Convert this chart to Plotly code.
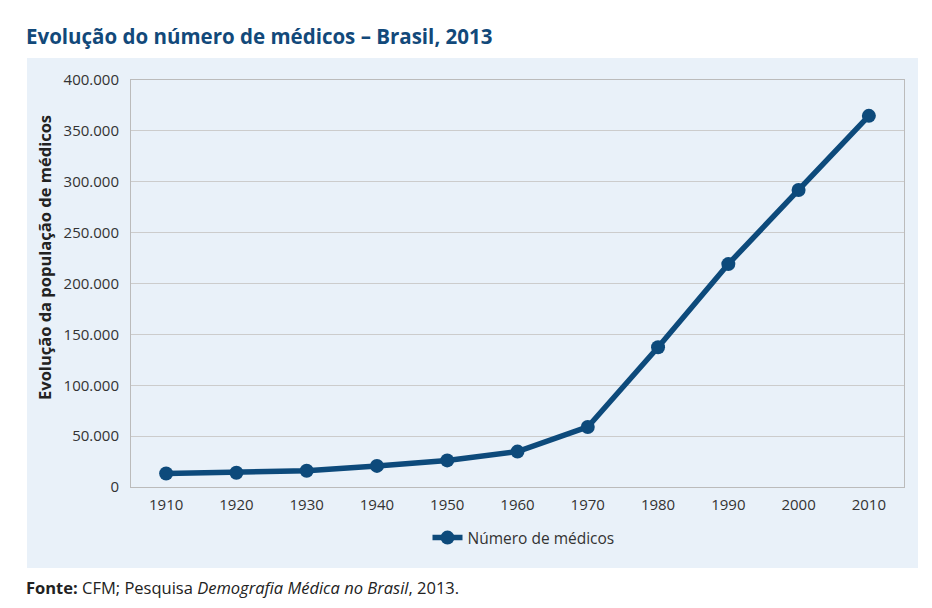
import plotly.graph_objects as go

years = ["1910", "1920", "1930", "1940", "1950", "1960", "1970", "1980", "1990", "2000", "2010"]
medicos = [13270, 14031, 15899, 20745, 26120, 34792, 58994, 137347, 219084, 291926, 364757]
y_ticks = [0, 50000, 100000, 150000, 200000, 250000, 300000, 350000, 400000]

# page body has an 8px margin, so the figure is drawn 8px in from the page corner
OFF = 8
W, H = 932 - 2 * OFF, 608 - 2 * OFF
ml, mr, mt, mb = 131 - OFF, W - (904 - OFF), 80 - OFF, H - (487 - OFF)
pw, ph = W - ml - mr, H - mt - mb

def px_x(x):
    return (x - OFF - ml) / pw

def px_y(y):
    return (H - mb - (y - OFF)) / ph

line_color = "#0D4A7B"

fig = go.Figure()
fig.add_trace(go.Scatter(
    x=years, y=medicos, mode="lines+markers", name="Número de médicos",
    line=dict(color=line_color, width=5.5),
    marker=dict(color=line_color, size=14),
))

fig.add_shape(type="rect", xref="paper", yref="paper", layer="below",
              x0=px_x(27), x1=px_x(918), y0=px_y(568), y1=px_y(58),
              fillcolor="#E9F1F9", line=dict(width=0))

fig.update_layout(
    width=W, height=H,
    margin=dict(l=ml, r=mr, t=mt, b=mb),
    paper_bgcolor="white", plot_bgcolor="white",
    separators=",.",
    font=dict(family="Open Sans", size=15, color="#333333"),
    showlegend=True,
    legend=dict(orientation="h", x=0.5 + 6 / pw, xanchor="center", y=px_y(538), yanchor="middle",
                bgcolor="rgba(0,0,0,0)", font=dict(size=15.5, color="#333333")),
    xaxis=dict(type="category", range=[-0.5, 10.5], showgrid=False,
               showline=True, linecolor="#BBBBBB", linewidth=1, mirror=True,
               ticks="", ticklabelstandoff=4, tickfont=dict(size=15, color="#333333")),
    yaxis=dict(range=[0, 400000], tickvals=y_ticks, tickformat=",d",
               showgrid=True, gridcolor="#CCCCCC", gridwidth=1,
               showline=True, linecolor="#BBBBBB", linewidth=1, mirror=True,
               zeroline=False, ticks="", ticklabelstandoff=8,
               tickfont=dict(size=15, color="#333333")),
)

fig.add_annotation(xref="paper", yref="paper", x=px_x(45), y=px_y(258),
                   xanchor="center", yanchor="middle", showarrow=False, textangle=-90,
                   text="<b>Evolução da população de médicos</b>",
                   font=dict(family="Open Sans", size=16.5, color="#222222"))

fig.add_annotation(xref="paper", yref="paper", x=px_x(24), y=px_y(36),
                   xanchor="left", yanchor="middle", showarrow=False,
                   text="<b>Evolução do número de médicos – Brasil, 2013</b>",
                   font=dict(family="Open Sans", size=20.5, color="#12497A"))

fig.add_annotation(xref="paper", yref="paper", x=px_x(24), y=px_y(587),
                   xanchor="left", yanchor="middle", showarrow=False,
                   text="<b>Fonte:</b> CFM; Pesquisa <i>Demografia Médica no Brasil</i>, 2013.",
                   font=dict(family="Open Sans", size=16.5, color="#222222"))

fig.write_html("out.html")
